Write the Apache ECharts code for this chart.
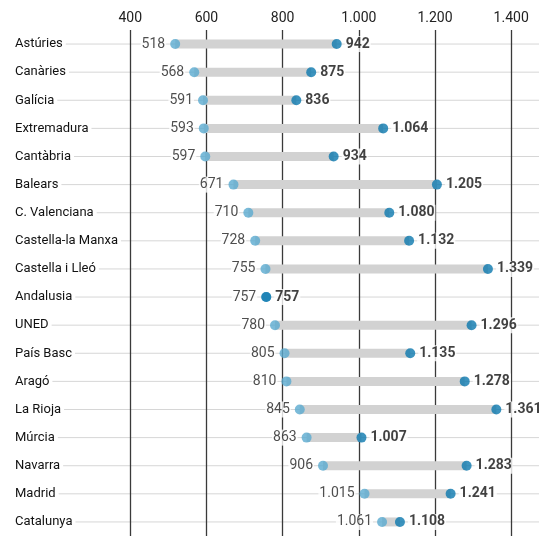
<!DOCTYPE html>
<html><head><meta charset="utf-8">
<script src="https://cdn.jsdelivr.net/npm/echarts@6/dist/echarts.min.js"></script>
<style>html,body{margin:0;padding:0;background:#fff}#c{width:539px;height:536px}</style>
</head><body><div id="c"></div>
<script>
const categories = ['Astúries','Canàries','Galícia','Extremadura','Cantàbria','Balears','C. Valenciana','Castella-la Manxa','Castella i Lleó','Andalusia','UNED','País Basc','Aragó','La Rioja','Múrcia','Navarra','Madrid','Catalunya'];
const startValues = [518,568,591,593,597,671,710,728,755,757,780,805,810,845,863,906,1015,1061];
const endValues = [942,875,836,1064,934,1205,1080,1132,1339,757,1296,1135,1278,1361,1007,1283,1241,1108];
const tickValues = [400,600,800,1000,1200,1400];

const FONT = 'Roboto';
function fmt(v){ return String(v).replace(/\B(?=(\d{3})+(?!\d))/g,'.'); }

const chart = echarts.init(document.getElementById('c'));
chart.setOption({
  animation:false,
  backgroundColor:'#fff',
  grid:{left:0,right:0,top:30,bottom:0,containLabel:false},
  xAxis:{
    type:'value', position:'top', min:66, max:1473,
    axisLine:{show:false},
    axisTick:{show:false, customValues:tickValues},
    axisLabel:{customValues:tickValues, formatter:fmt, color:'#222', fontFamily:FONT, fontSize:14, margin:5},
    splitLine:{show:true, lineStyle:{color:'#3a3a3a', width:1.3}}
  },
  yAxis:{
    type:'category', data:categories, inverse:true,
    axisLine:{show:false}, axisTick:{show:false}, splitLine:{show:false},
    axisLabel:{inside:true, margin:0, align:'left', color:'#111', fontFamily:FONT, fontSize:13,
      backgroundColor:'#fff', padding:[1,3,1,12]}
  },
  series:[
    {
      type:'custom', z:-1, silent:true,
      data: categories.map((c,i)=>[i]),
      renderItem:function(params, api){
        const i = api.value(0);
        const cs = params.coordSys;
        const y = api.coord([0,i])[1];
        return {type:'line', shape:{x1:cs.x, y1:y, x2:cs.x+cs.width, y2:y}, style:{stroke:'#d6d6d6', lineWidth:1}};
      }
    },
    {
      type:'custom', z:3, silent:true,
      data: startValues.map((v,i)=>[v,endValues[i],i]),
      encode:{x:[0,1], y:2},
      renderItem:function(params, api){
        const a = api.coord([api.value(0), api.value(2)]);
        const b = api.coord([api.value(1), api.value(2)]);
        return {type:'rect', shape:{x:a[0], y:a[1]-4.5, width:b[0]-a[0], height:9}, style:{fill:'#d2d2d2'}};
      }
    },
    {
      type:'scatter', z:5, symbolSize:10,
      itemStyle:{color:'#5aaad0'},
      data: startValues.map((v,i)=>[v,i]),
      label:{show:true, position:'left', distance:4, formatter:p=>fmt(p.value[0]), color:'#222', fontFamily:FONT, fontSize:14,
        backgroundColor:'#fff', padding:[1,1]}
    },
    {
      type:'scatter', z:6, symbolSize:10,
      itemStyle:{color:'#0b78ae'},
      data: endValues.map((v,i)=>[v,i]),
      label:{show:true, position:'right', distance:3, formatter:p=>fmt(p.value[0]), color:'#111', fontWeight:'bold', fontFamily:FONT, fontSize:14,
        backgroundColor:'#fff', padding:[1,1]}
    }
  ]
});
</script></body></html>
